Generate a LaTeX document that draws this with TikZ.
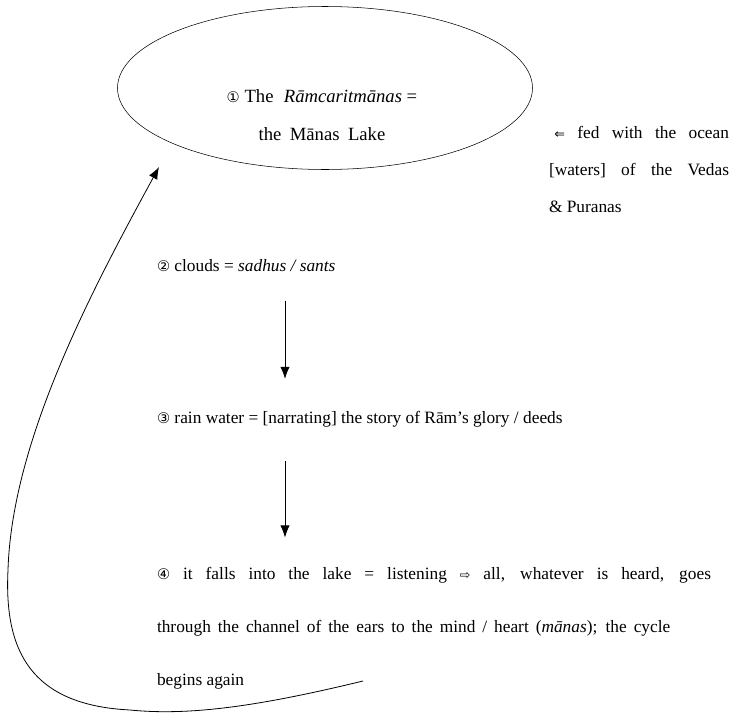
\documentclass[tikz,border=0pt]{standalone}
\usepackage{fontspec}
\setmainfont{Liberation Serif}
\newfontfamily\symfont{DejaVu Sans}
\usetikzlibrary{arrows.meta,positioning,shapes.geometric,calc}
\newcommand{\circnum}[1]{{\symfont\fontsize{11}{12}\selectfont #1}}
\newcommand{\arrsym}[1]{{\symfont\fontsize{9.5}{12}\selectfont #1}}

\begin{document}
\begin{tikzpicture}[
  x=0.75pt, y=-0.75pt,
  font=\fontsize{13}{28.5}\selectfont,
  >=Latex,
  lake/.style={
    draw,
    ellipse,
    minimum width=311.25pt,
    minimum height=122.25pt,
    inner sep=0pt,
    outer sep=0pt
  },
  txt/.style={inner sep=0pt, outer sep=0pt, align=left},
  flow/.style={-{Latex[length=9pt,width=7pt]}, line width=0.6pt},
  loopback/.style={-{Latex[length=9pt,width=7pt]}, line width=0.6pt}
]
\useasboundingbox (0,0) rectangle (747,714);
\node[lake] (lake) at (325,88) {};
% base anchor sits on the last line
\node[txt,align=center,anchor=base,font=\fontsize{14}{28.5}\selectfont] (laketext) at (322,140)
  {\circnum{①} The\hspace{0.55em}\textit{Rāmcaritmānas} =\\
   \makebox[95pt][s]{the Mānas Lake}};
\node[txt,anchor=base west,font=\fontsize{13}{27.75}\selectfont] (source) at (549,212)
  {\makebox[135pt][s]{\hspace*{4pt}\arrsym{⇐} fed with the ocean}\\
   \makebox[135pt][s]{[waters] of the Vedas}\\
   \& Puranas};
\node[txt,anchor=base west] (clouds) at (157,271)
  {\circnum{②} clouds = \textit{sadhus / sants}};
\node[txt,anchor=base west] (rain) at (157,423)
  {\circnum{③} rain water = [narrating] the story of Rām’s glory / deeds};
\node[txt,anchor=base west,font=\fontsize{13}{39.75}\selectfont] (listen) at (157,685)
  {\makebox[415.5pt][s]{\circnum{④} it falls into the lake = listening \arrsym{⇨} all, whatever is heard, goes}\\
   \makebox[385pt][s]{through the channel of the ears to the mind / heart (\textit{mānas}); the cycle}\\
   begins again};
\coordinate (ax) at (285,0);
\coordinate (loopstart) at (363,681);
\coordinate (loopend) at (159,167);
\draw[flow,shorten <=22pt,shorten >=24pt] (clouds.south -| ax) -- (rain.north -| ax);
\draw[flow,shorten <=26pt,shorten >=22pt] (rain.south -| ax) -- (listen.north -| ax);
\draw[loopback] (loopstart) .. controls (260,706) and (190,716) .. (130,710)
  .. controls (30,705) and (4,650) .. (8,570)
  .. controls (12,440) and (92,290) .. (loopend);
\end{tikzpicture}
\end{document}
